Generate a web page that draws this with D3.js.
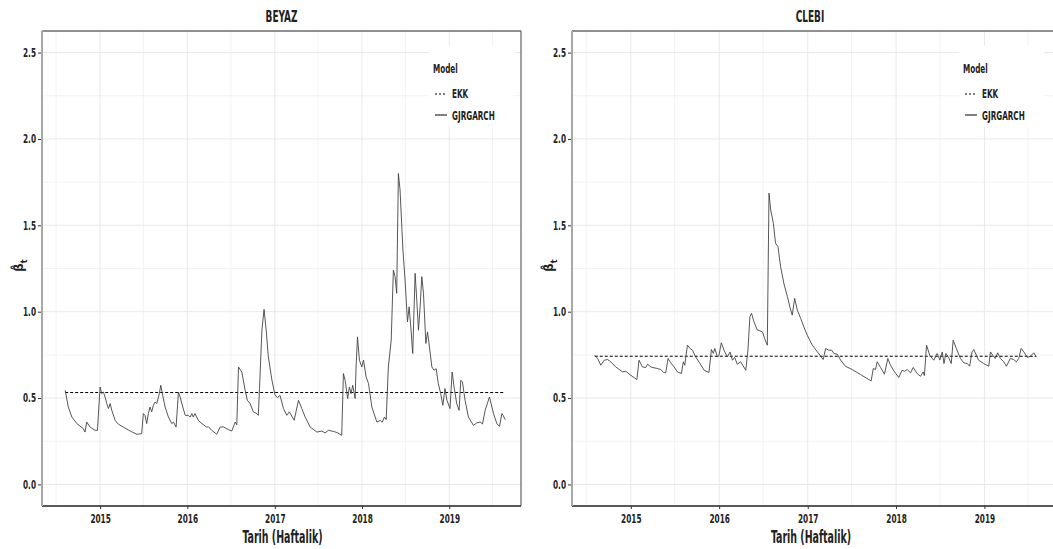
<!DOCTYPE html>
<html>
<head>
<meta charset="utf-8">
<script src="https://cdn.jsdelivr.net/npm/d3@7"></script>
<style>
    body { margin:0; background:#fff; }
    svg text { font-family:'DejaVu Sans Condensed','DejaVu Sans',sans-serif; font-weight:bold; fill:#222; }
</style>
</head>
<body>
<div class="canvas"></div>
<script>
// weekly beta estimates
const beyazDates = [
    "2014-08-08","2014-08-21","2014-09-05","2014-09-26","2014-10-23","2014-10-30","2014-11-06","2014-11-20","2014-12-11","2014-12-21",
    "2015-01-01","2015-01-08","2015-01-15","2015-01-22","2015-01-29","2015-02-05","2015-02-12","2015-02-19","2015-03-05","2015-03-19",
    "2015-04-08","2015-05-07","2015-06-04","2015-06-24","2015-07-01","2015-07-08","2015-07-15","2015-07-22","2015-07-29","2015-08-05",
    "2015-08-12","2015-08-19","2015-08-26","2015-09-06","2015-09-12","2015-09-20","2015-09-30","2015-10-14","2015-10-28","2015-11-04",
    "2015-11-15","2015-11-25","2015-12-02","2015-12-13","2015-12-23","2016-01-05","2016-01-13","2016-01-20","2016-01-26","2016-02-02",
    "2016-02-16","2016-03-02","2016-03-22","2016-03-29","2016-04-12","2016-04-26","2016-05-03","2016-05-17","2016-05-31","2016-06-21",
    "2016-07-05","2016-07-19","2016-07-26","2016-08-02","2016-08-16","2016-08-30","2016-09-08","2016-09-20","2016-10-03","2016-10-18",
    "2016-10-24","2016-10-29","2016-11-08","2016-11-17","2016-11-26","2016-12-05","2016-12-20","2017-01-02","2017-01-12","2017-01-23",
    "2017-02-06","2017-02-20","2017-03-03","2017-03-23","2017-04-10","2017-04-24","2017-05-08","2017-05-29","2017-06-26","2017-07-17",
    "2017-07-30","2017-08-13","2017-09-03","2017-09-19","2017-10-08","2017-10-15","2017-10-22","2017-11-02","2017-11-09","2017-11-16",
    "2017-11-23","2017-12-03","2017-12-07","2017-12-13","2017-12-21","2017-12-31","2018-01-07","2018-01-18","2018-01-28","2018-02-11",
    "2018-03-04","2018-03-18","2018-03-26","2018-04-05","2018-04-12","2018-04-21","2018-05-03","2018-05-12","2018-05-19","2018-05-26",
    "2018-06-02","2018-06-09","2018-06-21","2018-06-30","2018-07-10","2018-07-17","2018-07-25","2018-08-01","2018-08-11","2018-08-18",
    "2018-08-25","2018-09-01","2018-09-08","2018-09-15","2018-09-25","2018-10-02","2018-10-10","2018-10-20","2018-10-29","2018-11-07",
    "2018-11-16","2018-11-26","2018-12-05","2018-12-14","2018-12-22","2019-01-04","2019-01-13","2019-01-21","2019-02-01","2019-02-11",
    "2019-02-18","2019-02-25","2019-03-08","2019-03-22","2019-04-12","2019-04-26","2019-05-10","2019-05-20","2019-05-31","2019-06-18",
    "2019-07-05","2019-07-19","2019-07-30","2019-08-09","2019-08-14","2019-08-23"
];
const beyazGarch = [
    0.545,0.448,0.39,0.352,0.323,0.303,0.361,0.332,0.313,0.313,
    0.564,0.526,0.535,0.506,0.468,0.439,0.468,0.429,0.371,0.348,
    0.332,0.309,0.29,0.294,0.41,0.40,0.352,0.41,0.448,0.42,
    0.458,0.477,0.468,0.526,0.574,0.516,0.448,0.39,0.352,0.361,
    0.332,0.535,0.506,0.448,0.40,0.40,0.39,0.41,0.39,0.41,
    0.371,0.352,0.332,0.334,0.313,0.298,0.29,0.332,0.333,0.317,
    0.309,0.361,0.345,0.68,0.65,0.545,0.487,0.468,0.42,0.41,
    0.40,0.555,0.893,1.013,0.893,0.738,0.603,0.516,0.503,0.515,
    0.44,0.40,0.42,0.371,0.487,0.439,0.39,0.332,0.303,0.309,
    0.298,0.313,0.307,0.30,0.284,0.642,0.603,0.497,0.564,0.526,
    0.574,0.497,0.68,0.854,0.719,0.68,0.719,0.622,0.584,0.448,
    0.361,0.371,0.36,0.39,0.375,0.68,0.835,1.241,1.203,1.106,
    1.80,1.705,1.357,1.183,0.941,1.028,0.893,0.758,1.222,1.067,
    0.893,1.028,1.203,1.106,0.816,0.883,0.796,0.68,0.661,0.67,
    0.584,0.526,0.458,0.555,0.487,0.439,0.651,0.564,0.468,0.429,
    0.603,0.593,0.487,0.39,0.342,0.356,0.361,0.35,0.429,0.506,
    0.41,0.352,0.336,0.41,0.40,0.375
];
const beyazEkk = 0.532;

const clebiDates = [
    "2014-08-05","2014-08-17","2014-08-30","2014-09-13","2014-09-27","2014-10-10","2014-10-31","2014-11-28","2014-12-11","2015-01-01",
    "2015-01-26","2015-02-04","2015-02-18","2015-03-04","2015-03-11","2015-03-25","2015-04-07","2015-04-21","2015-05-05","2015-05-16",
    "2015-05-25","2015-06-04","2015-06-15","2015-06-29","2015-07-13","2015-07-29","2015-08-06","2015-08-12","2015-08-23","2015-09-03",
    "2015-09-13","2015-09-26","2015-10-14","2015-10-31","2015-11-20","2015-11-30","2015-12-08","2015-12-14","2015-12-25","2015-12-31",
    "2016-01-10","2016-01-21","2016-02-04","2016-02-15","2016-02-25","2016-03-05","2016-03-16","2016-03-30","2016-04-20","2016-04-29",
    "2016-05-07","2016-05-14","2016-05-24","2016-06-07","2016-06-16","2016-06-28","2016-07-07","2016-07-18","2016-07-25","2016-08-01",
    "2016-08-12","2016-08-21","2016-08-31","2016-09-11","2016-09-25","2016-10-09","2016-10-19","2016-10-29","2016-11-08","2016-11-19",
    "2016-12-03","2016-12-16","2016-12-30","2017-01-20","2017-02-10","2017-03-06","2017-03-16","2017-03-29","2017-04-10","2017-04-19",
    "2017-05-03","2017-05-17","2017-06-06","2017-07-04","2017-08-07","2017-09-20","2017-09-29","2017-10-08","2017-10-15","2017-10-29",
    "2017-11-14","2017-11-28","2017-12-09","2017-12-23","2018-01-12","2018-01-26","2018-02-05","2018-02-16","2018-03-02","2018-03-13",
    "2018-03-29","2018-04-12","2018-04-23","2018-04-28","2018-05-07","2018-05-20","2018-06-06","2018-06-20","2018-07-01","2018-07-11",
    "2018-07-18","2018-07-26","2018-08-06","2018-08-17","2018-08-25","2018-09-07","2018-09-24","2018-10-08","2018-10-22","2018-11-01",
    "2018-11-11","2018-11-18","2018-11-29","2018-12-08","2018-12-29","2019-01-19","2019-01-26","2019-02-06","2019-02-15","2019-02-25",
    "2019-03-08","2019-03-22","2019-04-02","2019-04-18","2019-05-02","2019-05-13","2019-05-23","2019-06-02","2019-06-13","2019-06-27",
    "2019-07-10","2019-07-24","2019-08-03"
];
const clebiGarch = [
    0.748,0.729,0.69,0.719,0.723,0.71,0.68,0.651,0.655,0.632,
    0.607,0.719,0.68,0.677,0.696,0.68,0.675,0.671,0.665,0.648,
    0.646,0.729,0.704,0.68,0.651,0.642,0.71,0.69,0.806,0.787,
    0.777,0.738,0.70,0.661,0.648,0.781,0.758,0.787,0.738,0.745,
    0.82,0.777,0.738,0.767,0.719,0.735,0.696,0.71,0.661,0.777,
    0.971,0.99,0.941,0.893,0.89,0.883,0.845,0.806,1.686,1.589,
    1.512,1.396,1.377,1.26,1.16,1.087,1.028,0.98,1.077,1.009,
    0.961,0.912,0.864,0.806,0.767,0.723,0.787,0.777,0.777,0.758,
    0.754,0.719,0.684,0.665,0.636,0.599,0.671,0.665,0.71,0.677,
    0.638,0.729,0.69,0.657,0.619,0.661,0.655,0.665,0.646,0.677,
    0.642,0.626,0.651,0.63,0.806,0.748,0.719,0.758,0.72,0.767,
    0.70,0.758,0.735,0.70,0.835,0.787,0.729,0.704,0.70,0.684,
    0.767,0.781,0.748,0.719,0.70,0.684,0.767,0.745,0.729,0.762,
    0.729,0.71,0.684,0.729,0.723,0.71,0.729,0.787,0.767,0.735,
    0.742,0.762,0.738
];
const clebiEkk = 0.742;

const yearTicks = [2015, 2016, 2017, 2018, 2019];
const yTicks = [0, 0.5, 1.0, 1.5, 2.0, 2.5];
const models = ['EKK', 'GJRGARCH'];

const dim = { width:1053, height:549, top:31, bottom:506 };
const narrow = 0.62; // squeeze text to a narrow face
const parse = d3.timeParse('%Y-%m-%d');

const panels = [
    { title:'BEYAZ', dates:beyazDates, values:beyazGarch, ekk:beyazEkk, x0:42, x1:521 },
    { title:'CLEBI', dates:clebiDates, values:clebiGarch, ekk:clebiEkk, x0:572, x1:1057 }
];

const svg = d3.select('.canvas')
    .append('svg')
    .attr('width', dim.width)
    .attr('height', dim.height);

const y = d3.scaleLinear()
    .domain([-0.125, 2.625])
    .range([dim.bottom, dim.top]);

// narrow text helper
const label = (sel, x, yy, str, size, anchor) => sel.append('text')
    .attr('transform', `translate(${x},${yy}) scale(${narrow},1)`)
    .attr('text-anchor', anchor || 'start')
    .attr('font-size', size)
    .text(str);

const drawPanel = (p) => {
    const x = d3.scaleTime()
        .domain([new Date(2014, 4, 3), new Date(2019, 9, 28)])
        .range([p.x0, p.x1]);

    const g = svg.append('g');
    const data = p.dates.map((d, i) => ({ date:parse(d), value:p.values[i] }));

    // minor grid
    const minorX = d3.range(2014, 2020).map(yr => new Date(yr, 6, 1));
    const minorY = d3.range(0.25, 2.5, 0.5);
    g.selectAll('.minorx').data(minorX).enter().append('line')
        .attr('x1', d => x(d)).attr('x2', d => x(d))
        .attr('y1', dim.top).attr('y2', dim.bottom)
        .attr('stroke', '#f3f3f3').attr('stroke-width', 1);
    g.selectAll('.minory').data(minorY).enter().append('line')
        .attr('x1', p.x0).attr('x2', p.x1)
        .attr('y1', d => y(d)).attr('y2', d => y(d))
        .attr('stroke', '#f3f3f3').attr('stroke-width', 1);

    // major grid
    g.selectAll('.majorx').data(yearTicks).enter().append('line')
        .attr('x1', d => x(new Date(d, 0, 1))).attr('x2', d => x(new Date(d, 0, 1)))
        .attr('y1', dim.top).attr('y2', dim.bottom)
        .attr('stroke', '#e8e8e8').attr('stroke-width', 1);
    g.selectAll('.majory').data(yTicks).enter().append('line')
        .attr('x1', p.x0).attr('x2', p.x1)
        .attr('y1', d => y(d)).attr('y2', d => y(d))
        .attr('stroke', '#e8e8e8').attr('stroke-width', 1);

    // EKK constant beta
    const ext = d3.extent(data, d => d.date);
    g.append('line')
        .attr('x1', x(ext[0])).attr('x2', x(ext[1]))
        .attr('y1', y(p.ekk)).attr('y2', y(p.ekk))
        .attr('stroke', '#000').attr('stroke-width', 1)
        .attr('stroke-dasharray', '3,2');

    // GJR-GARCH time-varying beta
    const line = d3.line()
        .x(d => x(d.date))
        .y(d => y(d.value));
    g.append('path')
        .datum(data)
        .attr('d', line)
        .attr('fill', 'none')
        .attr('stroke', '#444')
        .attr('stroke-width', 0.9);

    // border
    g.append('line').attr('x1', p.x0).attr('x2', p.x1).attr('y1', dim.top).attr('y2', dim.top)
        .attr('stroke', '#222');
    g.append('line').attr('x1', p.x0).attr('x2', p.x1).attr('y1', dim.bottom).attr('y2', dim.bottom)
        .attr('stroke', '#222').attr('stroke-width', 1.3);
    g.append('line').attr('x1', p.x1).attr('x2', p.x1).attr('y1', dim.top).attr('y2', dim.bottom)
        .attr('stroke', '#444');
    g.append('line').attr('x1', p.x0).attr('x2', p.x0).attr('y1', dim.top).attr('y2', dim.bottom)
        .attr('stroke', '#a8a8a8').attr('stroke-width', 2);

    // axes
    const xAxis = d3.axisBottom(x)
        .tickValues(yearTicks.map(d => new Date(d, 0, 1)))
        .tickFormat(d3.timeFormat('%Y'))
        .tickSize(3).tickPadding(5);
    const yAxis = d3.axisLeft(y)
        .tickValues(yTicks)
        .tickFormat(d3.format('.1f'))
        .tickSize(3).tickPadding(2);

    const xg = g.append('g').attr('transform', `translate(0,${dim.bottom})`).call(xAxis);
    const yg = g.append('g').attr('transform', `translate(${p.x0 - 1},0)`).call(yAxis);
    [xg, yg].forEach(a => {
        a.select('.domain').remove();
        a.selectAll('line').attr('stroke', '#333');
        a.selectAll('text').attr('font-size', 12)
            .style('font-family', "'DejaVu Sans Condensed','DejaVu Sans',sans-serif")
            .style('fill', '#222');
    });
    xg.selectAll('text').attr('transform', `scale(${narrow + 0.06},1)`);
    yg.selectAll('text')
        .attr('x', -5 / (narrow + 0.06))
        .attr('transform', `scale(${narrow + 0.06},1)`);

    const cx = (p.x0 + Math.min(p.x1, 1048)) / 2;
    label(g, cx, 22, p.title, 16, 'middle');
    label(g, cx + 1, 543, 'Tarih (Haftalik)', 17, 'middle');

    const yl = g.append('text')
        .attr('transform', `translate(${p.x0 - 19},${(dim.top + dim.bottom) / 2 - 3}) rotate(-90)`)
        .attr('text-anchor', 'middle')
        .attr('font-size', 13)
        .attr('font-weight', 'normal');
    yl.append('tspan').text('\u03B2\u0302');
    yl.append('tspan').attr('dy', 4).attr('font-size', 9).text('t');

    // legend
    const lg = g.append('g').attr('transform', `translate(${p.x0 + 387},46)`);
    lg.append('rect').attr('width', 85).attr('height', 81).attr('fill', '#fff');
    label(lg, 4, 27, 'Model', 13);
    lg.selectAll('.key').data(models).enter().append('line')
        .attr('x1', 6).attr('x2', 18)
        .attr('y1', (d, i) => 48 + i * 21).attr('y2', (d, i) => 48 + i * 21)
        .attr('stroke', '#000').attr('stroke-width', 1)
        .attr('stroke-dasharray', d => d === 'EKK' ? '2,2' : null);
    models.forEach((m, i) => label(lg, 23, 52 + i * 22, m, 13));
};

panels.forEach(drawPanel);
</script>
</body>
</html>
